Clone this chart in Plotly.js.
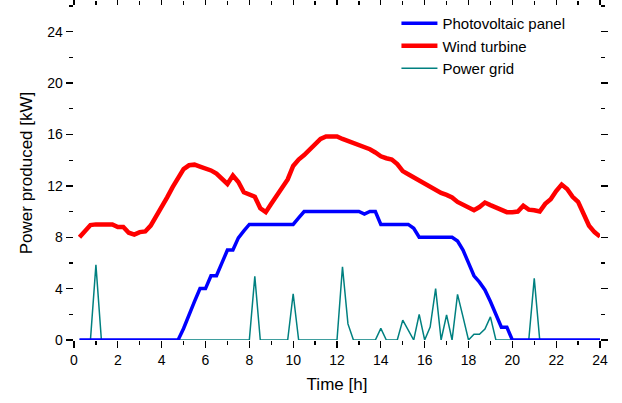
<!DOCTYPE html>
<html>
<head>
<meta charset="utf-8">
<script src="https://cdn.plot.ly/plotly-3.0.1.min.js"></script>
<style>html,body{margin:0;padding:0;background:#fff;}#chart{width:622px;height:403px;}</style>
</head>
<body>
<div id="chart"></div>
<script>
var hours = [0.25,0.5,0.75,1,1.25,1.5,1.75,2,2.25,2.5,2.75,3,3.25,3.5,3.75,4,4.25,4.5,4.75,5,5.25,5.5,5.75,6,6.25,6.5,6.75,7,7.25,7.5,7.75,8,8.25,8.5,8.75,9,9.25,9.5,9.75,10,10.25,10.5,10.75,11,11.25,11.5,11.75,12,12.25,12.5,12.75,13,13.25,13.5,13.75,14,14.25,14.5,14.75,15,15.25,15.5,15.75,16,16.25,16.5,16.75,17,17.25,17.5,17.75,18,18.25,18.5,18.75,19,19.25,19.5,19.75,20,20.25,20.5,20.75,21,21.25,21.5,21.75,22,22.25,22.5,22.75,23,23.25,23.5,23.75,24];

var photovoltaic = [0,0,0,0,0,0,0,0,0,0,0,0,0,0,0,0,0,0,0,0.9,2.0,3.0,4.0,4.0,5.0,5.0,6.0,7.0,7.0,7.95,8.5,9.0,9.0,9.0,9.0,9.0,9.0,9.0,9.0,9.0,9.5,10,10,10,10,10,10,10,10,10,10,10,9.8,10,10,9.0,9.0,9.0,9.0,9.0,9.0,8.7,8.0,8.0,8.0,8.0,8.0,8.0,8.0,7.7,7.0,6.0,5.0,4.5,3.9,3.0,2.0,1.0,1.0,0,0,0,0,0,0,0,0,0,0,0,0,0,0,0,0,0];

var windTurbine = [8.0,8.5,8.95,9.0,9.0,9.0,9.0,8.8,8.8,8.35,8.2,8.4,8.45,8.9,9.6,10.3,11.1,11.9,12.6,13.3,13.6,13.65,13.5,13.35,13.2,12.95,12.6,12.15,12.8,12.3,11.5,11.3,11.15,10.25,9.95,10.6,11.2,11.8,12.5,13.55,14.05,14.4,14.85,15.2,15.65,15.85,15.85,15.85,15.65,15.5,15.3,15.15,15.0,14.85,14.6,14.3,14.15,14.05,13.7,13.15,12.9,12.65,12.4,12.15,11.9,11.7,11.45,11.3,11.1,10.75,10.55,10.3,10.1,10.35,10.7,10.5,10.3,10.15,9.95,9.95,10.0,10.45,10.15,10.1,10.0,10.6,10.95,11.6,12.1,11.75,11.15,10.75,9.85,8.9,8.4,8.05];

var powerGrid = [0,0,0,5.85,0,0,0,0,0,0,0,0,0,0,0,0,0,0,0,0,0,0,0,0,0,0,0,0,0,0,0,0,4.95,0,0,0,0,0,0,3.6,0,0,0,0,0,0,0,0,5.7,1.25,0,0,0,0,0,0.9,0,0,0,1.55,0.8,0,2.0,0,1.0,4.0,0,1.95,0,3.55,1.8,0,0.45,0.45,0.85,1.8,0,0,0,0,0,0,0,4.8,0,0,0,0,0,0,0,0,0,0,0,0];

var seriesNames = ["Photovoltaic panel", "Wind turbine", "Power grid"];
var xTickLabels = ["0","2","4","6","8","10","12","14","16","18","20","22","24"];
var yTickLabels = ["0","4","8","12","16","20","24"];

var fontFam = "Liberation Sans, Arial, sans-serif";

var traces = [
  {x: hours, y: photovoltaic, name: seriesNames[0], type: "scatter", mode: "lines",
   line: {color: "#0000ff", width: 3.5}, zorder: 1},
  {x: hours, y: windTurbine, name: seriesNames[1], type: "scatter", mode: "lines",
   line: {color: "#ff0000", width: 4.5}, zorder: 2},
  {x: hours, y: powerGrid, name: seriesNames[2], type: "scatter", mode: "lines",
   line: {color: "#008080", width: 1.5}, zorder: 0}
];

var axisCommon = {
  showgrid: false, zeroline: false, showline: true, linecolor: "#000", linewidth: 1.3,
  mirror: "ticks", ticks: "outside", ticklen: 7, tickwidth: 1.3, tickcolor: "#000",
  tickfont: {family: fontFam, size: 14, color: "#000"}
};

var layout = {
  width: 622, height: 403,
  margin: {l: 74, r: 22, t: 6, b: 63},
  paper_bgcolor: "#fff", plot_bgcolor: "#fff",
  font: {family: fontFam, color: "#000"},
  showlegend: true,
  legend: {x: 0.613, xanchor: "left", y: 0.997, yanchor: "top", itemwidth: 36,
           font: {family: fontFam, size: 15, color: "#000"},
           bgcolor: "rgba(0,0,0,0)", traceorder: "normal"},
  xaxis: Object.assign({}, axisCommon, {
    range: [0, 24], tickmode: "array",
    tickvals: xTickLabels.map(Number), ticktext: xTickLabels,
    minor: {dtick: 1, ticks: "outside", ticklen: 4, tickwidth: 1.3, tickcolor: "#000"},
    title: {text: "Time [h]", font: {family: fontFam, size: 17, color: "#000"}, standoff: 11}
  }),
  yaxis: Object.assign({}, axisCommon, {
    range: [0, 26], tickmode: "array",
    tickvals: yTickLabels.map(Number), ticktext: yTickLabels,
    minor: {dtick: 2, ticks: "outside", ticklen: 4, tickwidth: 1.3, tickcolor: "#000"},
    title: {text: "Power produced [kW]", font: {family: fontFam, size: 17, color: "#000"}, standoff: 10}
  })
};

Plotly.newPlot("chart", traces, layout, {displayModeBar: false, staticPlot: true});
</script>
</body>
</html>
